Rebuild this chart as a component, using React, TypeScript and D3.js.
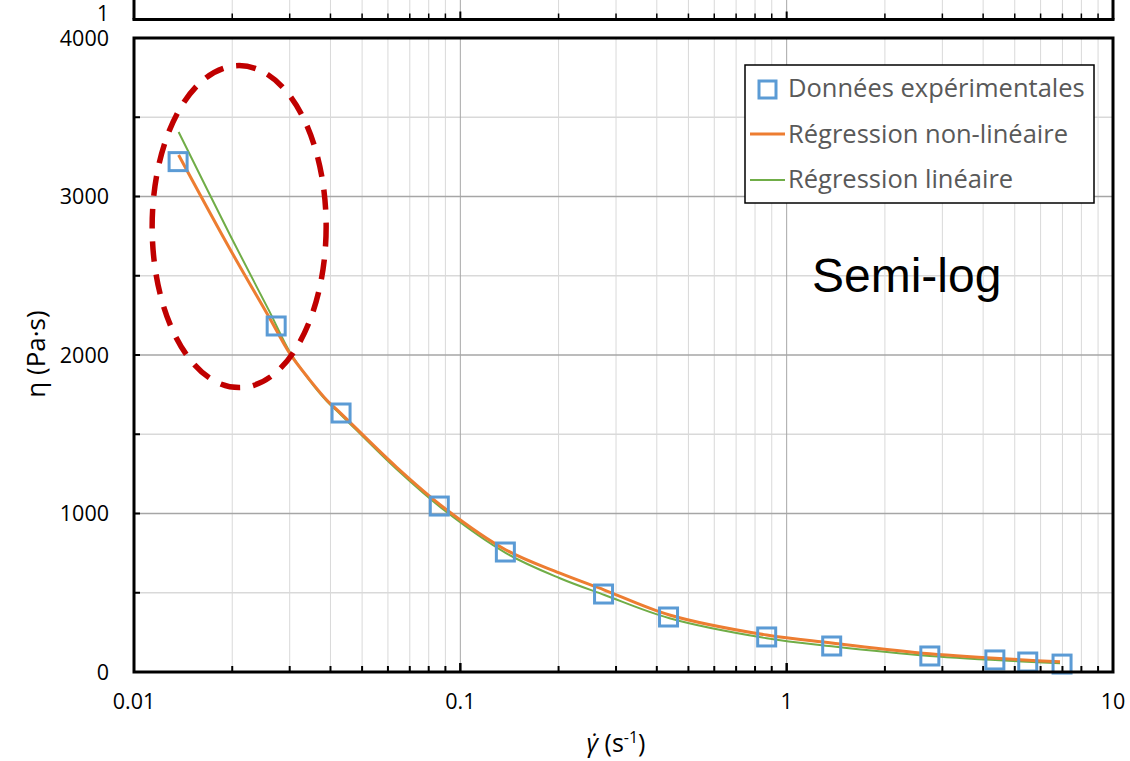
import React from "react";
import * as d3 from "d3";

const W = 1130;
const H = 761;

// Experimental data: shear rate (s^-1), viscosity (Pa·s)
const expShear = [0.01365, 0.02727, 0.0431, 0.0862, 0.1374, 0.2747, 0.4345, 0.8685, 1.374, 2.746, 4.345, 5.48, 6.98];
const expVisc = [3220, 2183, 1634, 1047, 757, 492, 347, 221, 164, 101, 76, 63, 50];

// Non-linear regression curve
const nlShear = [0.0137, 0.0196, 0.026, 0.03, 0.0345, 0.039, 0.0431, 0.0637, 0.0893, 0.138, 0.201, 0.2765, 0.4375, 0.8685, 1.374, 2.746, 6.88];
const nlVisc = [3262, 2675, 2235, 2010, 1845, 1715, 1630, 1293, 1035, 770, 625, 517, 360, 233, 183, 115, 65];

// Linear regression curve
const linShear = [0.0137, 0.0196, 0.026, 0.03, 0.0345, 0.039, 0.0431, 0.0637, 0.0893, 0.138, 0.201, 0.2765, 0.4375, 0.8685, 1.374, 2.746, 6.88];
const linVisc = [3407, 2765, 2275, 2020, 1840, 1708, 1622, 1280, 1020, 750, 593, 486, 339, 213, 162, 101, 55];

const xTickValues = [0.01, 0.1, 1, 10];
const xTickLabels = ["0.01", "0.1", "1", "10"];
const yTickValues = [0, 1000, 2000, 3000, 4000];
const yTickLabels = ["0", "1000", "2000", "3000", "4000"];

const legendLabels = ["Données expérimentales", "Régression non-linéaire", "Régression linéaire"];

const FONT = "'Open Sans', 'Noto Sans', sans-serif";
const BLUE = "#5B9BD5";
const ORANGE = "#ED7D31";
const GREEN = "#70AD47";
const RED = "#C00000";

export default function App() {
  const left = 134, right = 1113, top = 38, bottom = 672;
  const x = d3.scaleLog().domain([0.01, 10]).range([left, right]);
  const y = d3.scaleLinear().domain([0, 4000]).range([bottom, top]);

  const minorX: number[] = [];
  for (const dec of [0.01, 0.1, 1]) {
    for (let k = 2; k <= 9; k++) minorX.push(dec * k);
  }
  const minorY = d3.range(500, 4000, 1000);
  const majorY = [1000, 2000, 3000];

  const line = d3
    .line<[number, number]>()
    .x((d) => x(d[0]))
    .y((d) => y(d[1]))
    .curve(d3.curveCatmullRom.alpha(0.5));

  const nlPts = nlShear.map((s, i) => [s, nlVisc[i]] as [number, number]);
  const linPts = linShear.map((s, i) => [s, linVisc[i]] as [number, number]);

  const topBorder = 19.5;
  const sq = 18;

  // annotation ellipse (data-space center)
  const ecx = x(0.021);
  const ecy = y(2810);

  return (
    <svg width={W} height={H} style={{ position: "absolute", left: 0, top: 0, background: "#fff" }}>
      <rect x={0} y={0} width={W} height={H} fill="#fff" />

      {/* Bottom of the chart above */}
      {minorX.map((v, i) => (
        <line key={"tg" + i} x1={x(v)} x2={x(v)} y1={0} y2={topBorder} stroke="#d9d9d9" strokeWidth={1} />
      ))}
      {[0.1, 1].map((v, i) => (
        <line key={"tgm" + i} x1={x(v)} x2={x(v)} y1={0} y2={topBorder} stroke="#a6a6a6" strokeWidth={1} />
      ))}
      {minorX.map((v, i) => (
        <line key={"tt" + i} x1={x(v)} x2={x(v)} y1={topBorder - 6} y2={topBorder} stroke="#000" strokeWidth={1.5} />
      ))}
      {[0.1, 1].map((v, i) => (
        <line key={"ttm" + i} x1={x(v)} x2={x(v)} y1={topBorder - 8} y2={topBorder} stroke="#000" strokeWidth={2} />
      ))}
      <line x1={left} x2={left} y1={0} y2={topBorder} stroke="#000" strokeWidth={3} />
      <line x1={right} x2={right} y1={0} y2={topBorder} stroke="#000" strokeWidth={3} />
      <line x1={left - 1.5} x2={right + 1.5} y1={topBorder} y2={topBorder} stroke="#000" strokeWidth={3} />
      <text x={109} y={21} textAnchor="end" fontFamily={FONT} fontSize={21} fill="#000">1</text>

      {/* grid */}
      {minorX.map((v, i) => (
        <line key={"g" + i} x1={x(v)} x2={x(v)} y1={top} y2={bottom} stroke="#d9d9d9" strokeWidth={1} />
      ))}
      {minorY.map((v, i) => (
        <line key={"gy" + i} x1={left} x2={right} y1={y(v)} y2={y(v)} stroke="#d9d9d9" strokeWidth={1.5} />
      ))}
      {[0.1, 1].map((v, i) => (
        <line key={"gm" + i} x1={x(v)} x2={x(v)} y1={top} y2={bottom} stroke="#a6a6a6" strokeWidth={1} />
      ))}
      {majorY.map((v, i) => (
        <line key={"gym" + i} x1={left} x2={right} y1={y(v)} y2={y(v)} stroke="#a6a6a6" strokeWidth={1.5} />
      ))}

      {/* ticks */}
      {minorX.map((v, i) => (
        <line key={"xt" + i} x1={x(v)} x2={x(v)} y1={bottom - 6} y2={bottom} stroke="#000" strokeWidth={2} />
      ))}
      {[0.1, 1].map((v, i) => (
        <line key={"xtm" + i} x1={x(v)} x2={x(v)} y1={bottom - 9} y2={bottom} stroke="#000" strokeWidth={2.5} />
      ))}
      {d3.range(500, 4000, 500).map((v, i) => (
        <line key={"yt" + i} x1={left} x2={left + 6} y1={y(v)} y2={y(v)} stroke="#000" strokeWidth={2} />
      ))}

      {/* curves */}
      <path d={line(linPts) || ""} fill="none" stroke={GREEN} strokeWidth={2} />
      <path d={line(nlPts) || ""} fill="none" stroke={ORANGE} strokeWidth={3} />

      {/* data markers */}
      {expShear.map((s, i) => (
        <rect
          key={"p" + i}
          x={x(s) - sq / 2}
          y={y(expVisc[i]) - sq / 2}
          width={sq}
          height={sq}
          fill="none"
          stroke={BLUE}
          strokeWidth={3}
        />
      ))}

      {/* frame */}
      <rect x={left} y={top} width={right - left} height={bottom - top} fill="none" stroke="#000" strokeWidth={3} />

      {/* axis labels */}
      {xTickValues.map((v, i) => (
        <text key={"xl" + i} x={x(v)} y={709} textAnchor="middle" fontFamily={FONT} fontSize={21.5} fill="#000">
          {xTickLabels[i]}
        </text>
      ))}
      {yTickValues.map((v, i) => (
        <text key={"yl" + i} x={109} y={y(v) + 7.5} textAnchor="end" fontFamily={FONT} fontSize={21.5} fill="#000">
          {yTickLabels[i]}
        </text>
      ))}

      <text
        transform={`translate(45,354) rotate(-90)`}
        textAnchor="middle"
        fontFamily={FONT}
        fontSize={26}
        fill="#000"
      >
        η (Pa·s)
      </text>
      <text x={616} y={752} textAnchor="middle" fontFamily={FONT} fontSize={25} fill="#000">
        <tspan fontStyle="italic">γ̇</tspan>
        <tspan> (s</tspan>
        <tspan fontSize={16} dy={-9}>-1</tspan>
        <tspan dy={9}>)</tspan>
      </text>

      {/* annotation */}
      <ellipse cx={ecx} cy={ecy} rx={87} ry={161} fill="none" stroke={RED} strokeWidth={5.5} strokeDasharray="20 13" />
      <text x={812} y={292} fontFamily="'Liberation Sans', Arial, sans-serif" fontSize={48} fill="#000">
        Semi-log
      </text>

      {/* legend */}
      <rect x={745} y={65} width={349} height={138} fill="#fff" stroke="#000" strokeWidth={1.5} />
      <rect x={759} y={81} width={17} height={17} fill="none" stroke={BLUE} strokeWidth={3} />
      <line x1={750} x2={785} y1={134} y2={134} stroke={ORANGE} strokeWidth={3} />
      <line x1={750} x2={785} y1={180} y2={180} stroke={GREEN} strokeWidth={2} />
      {legendLabels.map((t, i) => (
        <text key={"lg" + i} x={788} y={97 + i * 45.5} fontFamily={FONT} fontSize={25.5} fill="#595959">
          {t}
        </text>
      ))}
    </svg>
  );
}
